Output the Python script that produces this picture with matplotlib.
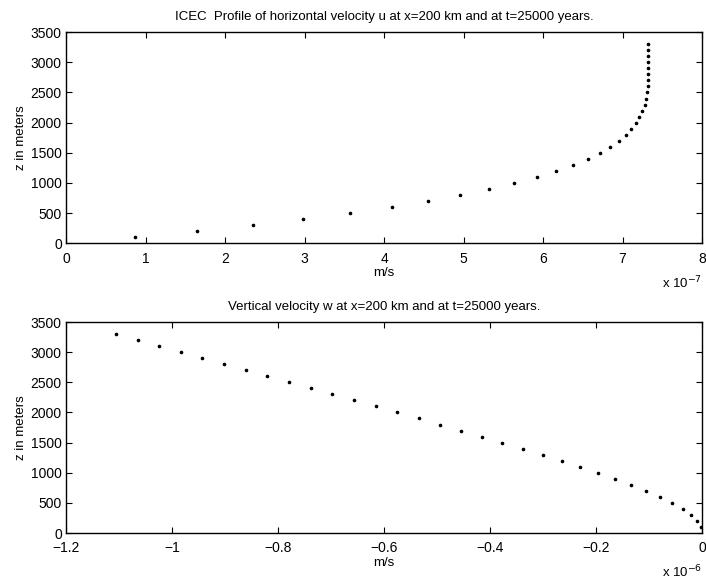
import numpy as np
import matplotlib
matplotlib.use("Agg")
import matplotlib.pyplot as plt
from matplotlib.ticker import FuncFormatter

plt.rcParams["font.family"] = ["Liberation Sans", "DejaVu Sans"]
plt.rcParams["font.size"] = 10

# depth levels (m)
z = [100, 200, 300, 400, 500, 600, 700, 800, 900, 1000, 1100,
     1200, 1300, 1400, 1500, 1600, 1700, 1800, 1900, 2000, 2100,
     2200, 2300, 2400, 2500, 2600, 2700, 2800, 2900, 3000, 3100,
     3200, 3300]

u_e7 = [0.87, 1.645, 2.355, 2.98, 3.57, 4.10, 4.55, 4.96, 5.32, 5.64, 5.92,
        6.16, 6.38, 6.56, 6.71, 6.84, 6.95, 7.04, 7.11, 7.17, 7.21,
        7.25, 7.28, 7.30, 7.31, 7.315, 7.32, 7.322, 7.324, 7.325, 7.325,
        7.325, 7.325]

w_e6 = [-0.0013, -0.0089, -0.0208, -0.0365, -0.056, -0.080, -0.105, -0.1334,
        -0.1636, -0.1957, -0.2296, -0.265, -0.301, -0.338, -0.377, -0.416,
        -0.455, -0.495, -0.5346, -0.576, -0.616, -0.657, -0.6975, -0.738,
        -0.780, -0.820, -0.861, -0.9025, -0.943, -0.984, -1.0245, -1.065,
        -1.106]

u = np.array(u_e7) * 1e-7
w = np.array(w_e6) * 1e-6

fig = plt.figure(figsize=(7.06, 5.79), dpi=100)
ax1 = fig.add_axes([0.0935, 0.580, 0.901, 0.3644])
ax2 = fig.add_axes([0.0935, 0.0794, 0.901, 0.3644])


def style(ax):
    ax.tick_params(direction="in", top=True, right=True, length=4,
                   width=0.8, labelsize=10)
    ax.tick_params(axis="x", pad=6)
    ax.tick_params(axis="y", pad=3)
    for s in ax.spines.values():
        s.set_linewidth(1.0)


# top panel
ax1.plot(u, z, ".", color="black", markersize=3.2)
ax1.set_xlim(0, 8e-7)
ax1.set_ylim(0, 3500)
ax1.set_xticks(np.arange(0, 9) * 1e-7)
ax1.set_yticks(np.arange(0, 3501, 500))
ax1.xaxis.set_major_formatter(FuncFormatter(lambda v, p: f"{v / 1e-7:g}"))
ax1.set_title("ICEC  Profile of horizontal velocity u at x=200 km and at t=25000 years.",
              fontsize=9.5, pad=9)
ax1.set_xlabel("m/s", fontsize=9.5, labelpad=1)
ax1.set_ylabel("z in meters", fontsize=9.5, labelpad=2.5)
ax1.text(1.0, -0.19, r"x 10$^{-7}$", transform=ax1.transAxes,
         ha="right", va="center", fontsize=9.5)
style(ax1)

# bottom panel
ax2.plot(w, z, ".", color="black", markersize=3.2)
ax2.set_xlim(-1.2e-6, 0)
ax2.set_ylim(0, 3500)
ax2.set_xticks(np.arange(-6, 1) * 0.2e-6)
ax2.set_yticks(np.arange(0, 3501, 500))
ax2.xaxis.set_major_formatter(
    FuncFormatter(lambda v, p: f"{round(v / 1e-6, 1):g}".replace("-", "\u2212")))
ax2.set_title("Vertical velocity w at x=200 km and at t=25000 years.",
              fontsize=9.5, pad=9)
ax2.set_xlabel("m/s", fontsize=9.5, labelpad=1)
ax2.set_ylabel("z in meters", fontsize=9.5, labelpad=2.5)
ax2.text(1.0, -0.185, r"x 10$^{-6}$", transform=ax2.transAxes,
         ha="right", va="center", fontsize=9.5)
style(ax2)

fig.savefig("out.png", dpi=100)
